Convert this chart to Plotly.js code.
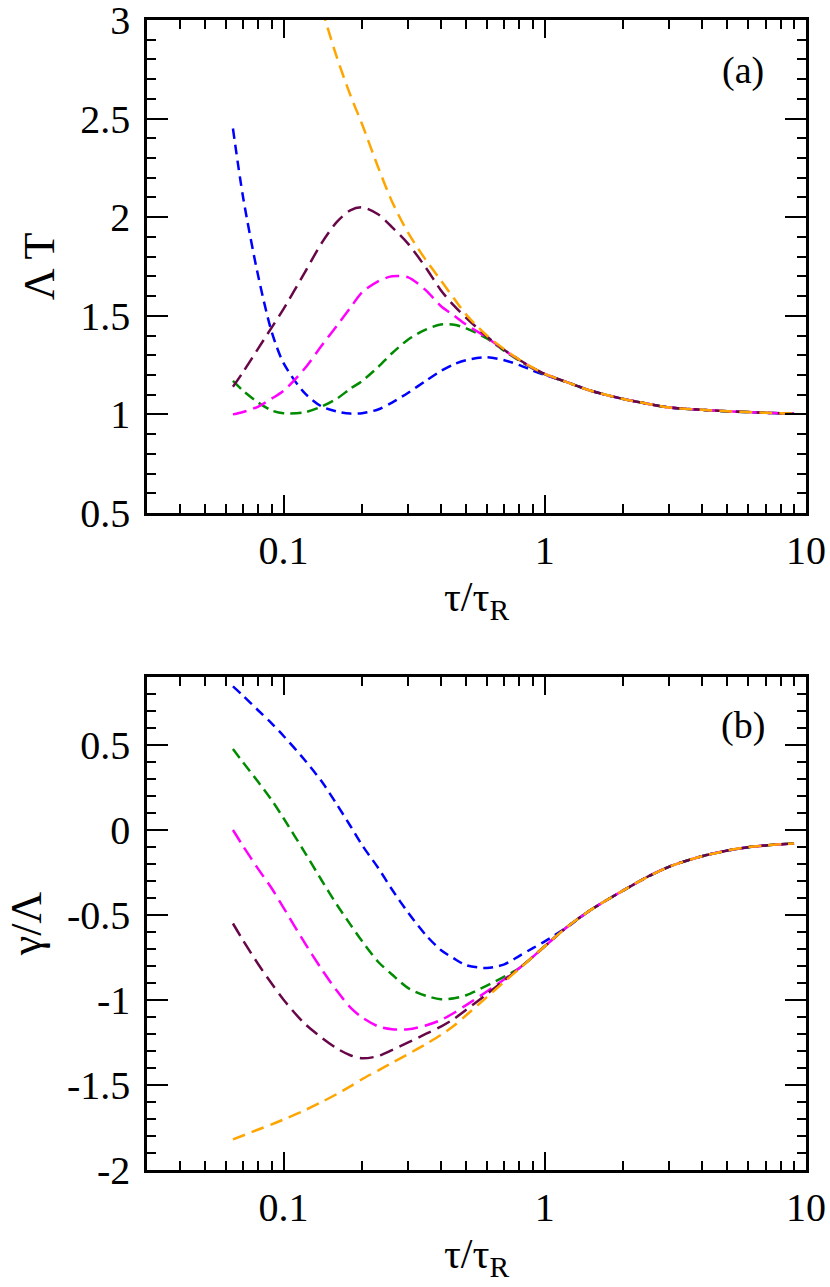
<!DOCTYPE html>
<html>
<head>
<meta charset="utf-8">
<script src="https://cdn.plot.ly/plotly-3.0.1.min.js"></script>
<style>
  html, body { margin: 0; padding: 0; background: #fff; }
  #chart { width: 830px; height: 1287px; }
</style>
</head>
<body>
<div id="chart"></div>
<script>
// tau / tau_R grid (shared by every curve)
var xTau = [0.064, 0.07, 0.08, 0.09, 0.1, 0.12, 0.14, 0.16, 0.18, 0.2, 0.23, 0.26, 0.3, 0.35, 0.4, 0.45, 0.5, 0.6, 0.7, 0.8, 0.9, 1, 1.2, 1.5, 2, 2.5, 3, 4, 5, 6, 7, 8, 9];

// panel (a): Lambda T
var blueA    = [2.45, 2.10, 1.70, 1.42, 1.26, 1.11, 1.04, 1.015, 1.004, 1.006, 1.025, 1.06, 1.11, 1.17, 1.22, 1.255, 1.275, 1.29, 1.275, 1.25, 1.222, 1.2, 1.166, 1.12, 1.078, 1.053, 1.035, 1.023, 1.016, 1.012, 1.008, 1.006, 1.004];
var greenA   = [1.17, 1.12, 1.06, 1.02, 1.006, 1.01, 1.04, 1.08, 1.13, 1.17, 1.24, 1.31, 1.38, 1.43, 1.456, 1.455, 1.436, 1.385, 1.322, 1.272, 1.232, 1.203, 1.166, 1.12, 1.078, 1.053, 1.035, 1.023, 1.016, 1.012, 1.008, 1.006, 1.004];
var magentaA = [1.0, 1.012, 1.04, 1.08, 1.12, 1.23, 1.35, 1.45, 1.54, 1.62, 1.675, 1.70, 1.695, 1.63, 1.55, 1.50, 1.455, 1.39, 1.325, 1.275, 1.235, 1.205, 1.166, 1.12, 1.078, 1.053, 1.035, 1.023, 1.016, 1.012, 1.008, 1.006, 1.004];
var maroonA  = [1.14, 1.215, 1.335, 1.44, 1.535, 1.715, 1.87, 1.976, 2.035, 2.05, 2.015, 1.95, 1.865, 1.745, 1.63, 1.55, 1.49, 1.395, 1.327, 1.276, 1.236, 1.205, 1.166, 1.12, 1.078, 1.053, 1.035, 1.023, 1.016, 1.012, 1.008, 1.006, 1.004];
var orangeA  = [null, null, null, null, null, null, 3.06, 2.81, 2.62, 2.47, 2.254, 2.08, 1.92, 1.784, 1.68, 1.586, 1.506, 1.40, 1.33, 1.277, 1.237, 1.205, 1.166, 1.12, 1.078, 1.053, 1.035, 1.023, 1.016, 1.012, 1.008, 1.006, 1.004];

// panel (b): gamma / Lambda
var blueB    = [0.845, 0.79, 0.703, 0.627, 0.553, 0.415, 0.285, 0.15, 0.025, -0.09, -0.222, -0.35, -0.487, -0.617, -0.706, -0.757, -0.795, -0.812, -0.79, -0.74, -0.695, -0.655, -0.578, -0.47, -0.355, -0.272, -0.215, -0.154, -0.121, -0.101, -0.091, -0.084, -0.079];
var greenB   = [0.476, 0.397, 0.282, 0.176, 0.069, -0.127, -0.297, -0.44, -0.555, -0.655, -0.775, -0.85, -0.93, -0.975, -0.995, -0.99, -0.972, -0.915, -0.863, -0.812, -0.746, -0.684, -0.578, -0.47, -0.355, -0.272, -0.215, -0.154, -0.121, -0.101, -0.091, -0.084, -0.079];
var magentaB = [0.0, -0.095, -0.23, -0.343, -0.458, -0.66, -0.82, -0.946, -1.043, -1.103, -1.155, -1.172, -1.172, -1.15, -1.118, -1.075, -1.03, -0.95, -0.878, -0.812, -0.746, -0.684, -0.578, -0.47, -0.355, -0.272, -0.215, -0.154, -0.121, -0.101, -0.091, -0.084, -0.079];
var maroonB  = [-0.55, -0.65, -0.79, -0.903, -0.999, -1.137, -1.222, -1.285, -1.325, -1.343, -1.33, -1.295, -1.25, -1.20, -1.157, -1.11, -1.058, -0.965, -0.884, -0.812, -0.746, -0.684, -0.578, -0.47, -0.355, -0.272, -0.215, -0.154, -0.121, -0.101, -0.091, -0.084, -0.079];
var orangeB  = [-1.82, -1.797, -1.762, -1.732, -1.703, -1.65, -1.60, -1.553, -1.508, -1.465, -1.415, -1.37, -1.318, -1.26, -1.206, -1.15, -1.09, -0.983, -0.893, -0.815, -0.746, -0.684, -0.578, -0.47, -0.355, -0.272, -0.215, -0.154, -0.121, -0.101, -0.091, -0.084, -0.079];

// ticks
var xTickVals = [0.1, 1, 10];
var xTickText = ['0.1', '1', '10'];
var xMinorVals = [0.04, 0.05, 0.06, 0.07, 0.08, 0.09, 0.2, 0.3, 0.4, 0.5, 0.6, 0.7, 0.8, 0.9, 2, 3, 4, 5, 6, 7, 8, 9];
var yTickValsA = [0.5, 1, 1.5, 2, 2.5, 3];
var yTickTextA = ['0.5', '1', '1.5', '2', '2.5', '3'];
var yTickValsB = [-2, -1.5, -1, -0.5, 0, 0.5];
var yTickTextB = ['-2', '-1.5', '-1', '-0.5', '0', '0.5'];

var colBlue = 'rgb(0,0,255)';
var colGreen = 'rgb(0,139,0)';
var colMagenta = 'rgb(255,0,255)';
var colMaroon = 'rgb(103,7,72)';
var colOrange = 'rgb(255,165,0)';

var FONT = 'Liberation Serif';

function curve(y, color, dash, xa, ya) {
  return {
    x: xTau, y: y, xaxis: xa, yaxis: ya,
    type: 'scatter', mode: 'lines',
    line: { color: color, width: 2.5, dash: dash, shape: 'spline', smoothing: 0.8 },
    hoverinfo: 'skip', showlegend: false
  };
}

var data = [
  curve(blueA, colBlue, '10px,6px', 'x', 'y'),
  curve(greenA, colGreen, '11px,6px', 'x', 'y'),
  curve(magentaA, colMagenta, '14px,7px', 'x', 'y'),
  curve(maroonA, colMaroon, '14px,7px', 'x', 'y'),
  curve(orangeA, colOrange, '13px,7px', 'x', 'y'),
  curve(blueB, colBlue, '10px,6px', 'x2', 'y2'),
  curve(greenB, colGreen, '11px,6px', 'x2', 'y2'),
  curve(magentaB, colMagenta, '14px,7px', 'x2', 'y2'),
  curve(maroonB, colMaroon, '14px,7px', 'x2', 'y2'),
  curve(orangeB, colOrange, '13px,7px', 'x2', 'y2')
];

function xAxis(anchor) {
  return {
    type: 'log', range: [Math.log10(0.03), 1], anchor: anchor, domain: [0, 1],
    tickmode: 'array', tickvals: xTickVals, ticktext: xTickText,
    ticks: 'inside', ticklen: 18, tickwidth: 2, tickcolor: '#000',
    minor: { tickmode: 'array', tickvals: xMinorVals, ticks: 'inside', ticklen: 9, tickwidth: 2, tickcolor: '#000', showgrid: false },
    showline: true, linewidth: 2.7, linecolor: '#000', mirror: 'ticks',
    showgrid: false, zeroline: false, ticklabeloverflow: 'allow',
    tickfont: { family: FONT, size: 40, color: '#000' },
    title: { text: 'τ/τ<sub>R</sub>', font: { family: FONT, size: 42, color: '#000' }, standoff: 10 }
  };
}

function yAxis(anchor, dom, rng, vals, text, label) {
  return {
    anchor: anchor, domain: dom, range: rng,
    tickmode: 'array', tickvals: vals, ticktext: text,
    ticks: 'inside', ticklen: 21, tickwidth: 2, tickcolor: '#000',
    minor: { dtick: 0.1, tick0: 0, ticks: 'inside', ticklen: 9, tickwidth: 2, tickcolor: '#000', showgrid: false },
    showline: true, linewidth: 2.7, linecolor: '#000', mirror: 'ticks',
    showgrid: false, zeroline: false, ticklabeloverflow: 'allow',
    ticklabelstandoff: 6,
    tickfont: { family: FONT, size: 40, color: '#000' },
    title: { text: label, font: { family: FONT, size: 44, color: '#000' }, standoff: 12 }
  };
}

var layout = {
  width: 830, height: 1287,
  margin: { l: 147, r: 24, t: 20, b: 117 },
  paper_bgcolor: '#fff', plot_bgcolor: '#fff',
  xaxis: xAxis('y'),
  yaxis: yAxis('x', [0.5713, 1], [0.5, 3], yTickValsA, yTickTextA, 'Λ\u2009T'),
  xaxis2: xAxis('y2'),
  yaxis2: yAxis('x2', [0, 0.4287], [-2, 0.9], yTickValsB, yTickTextB, 'γ/Λ'),
  annotations: [
    { text: '(a)', xref: 'paper', yref: 'paper', x: 0.9044, y: 0.9557, showarrow: false,
      xanchor: 'center', yanchor: 'middle',
      font: { family: FONT, size: 38, color: '#000' } },
    { text: '(b)', xref: 'paper', yref: 'paper', x: 0.9044, y: 0.3861, showarrow: false,
      xanchor: 'center', yanchor: 'middle',
      font: { family: FONT, size: 38, color: '#000' } }
  ]
};

Plotly.newPlot('chart', data, layout, { displayModeBar: false, staticPlot: true });
</script>
</body>
</html>
